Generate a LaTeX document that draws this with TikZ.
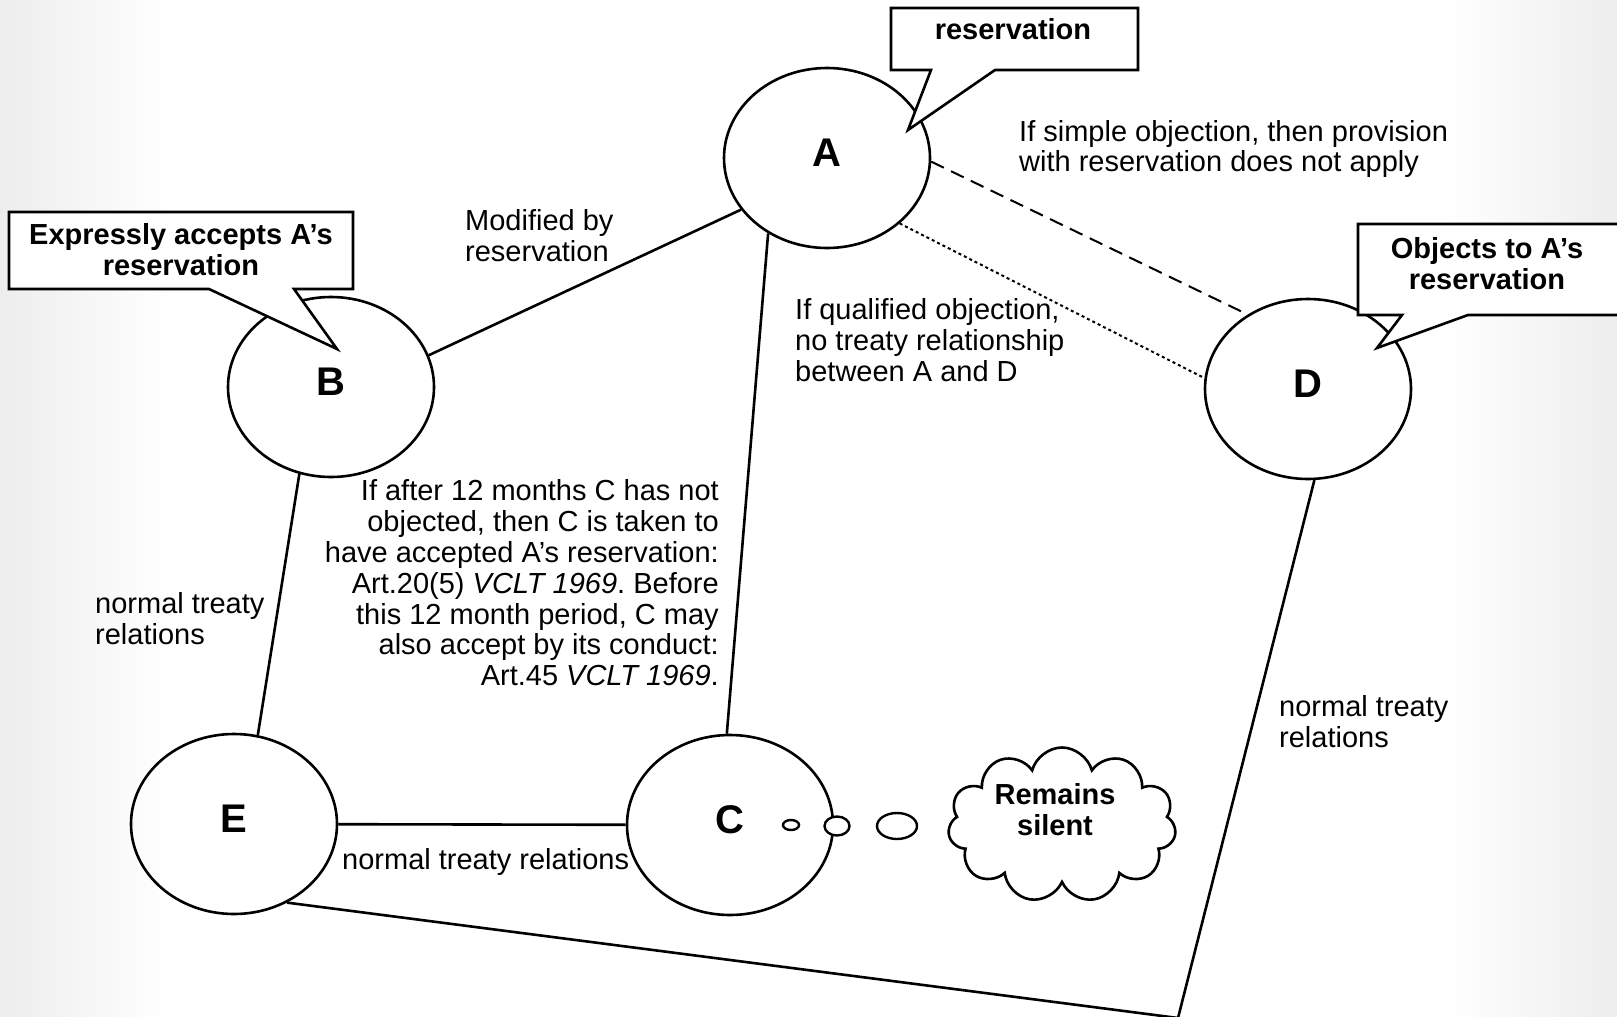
\documentclass[tikz,border=0pt]{standalone}
\usepackage{fontspec}
\setmainfont{Liberation Sans}
\usetikzlibrary{arrows.meta,positioning,shapes}
\frenchspacing

\tikzset{
  state/.style={ellipse, draw, line width=2.6pt, minimum width=206pt, minimum height=180pt, inner sep=0pt, font=\bfseries\fontsize{40}{40}\selectfont, text depth=10pt},
  link/.style={line width=2.6pt},
  note/.style={inner sep=0pt, font=\fontsize{29}{30.8}\selectfont},
  callout/.style={draw, fill=white, line width=2.6pt, line join=miter},
  calltext/.style={inner sep=0pt, align=center, font=\bfseries\fontsize{29}{30.8}\selectfont},
  bubble/.style={ellipse, draw, fill=white, line width=2.4pt, inner sep=0pt},
}

\begin{document}
\begin{tikzpicture}[x=1pt,y=-1pt]
  \useasboundingbox (0,0) rectangle (1617,1017);
  \clip (0,0) rectangle (1617,1017);
  \fill[white] (0,0) rectangle (1617,1017);
  \shade[left color=black!7, right color=white] (0,0) rectangle (170,1017);
  \shade[left color=white, right color=black!7] (1447,0) rectangle (1617,1017);

  \node[state] (A) at (827,158) {A};
  \node[state] (B) at (331,387) {B};
  \node[state] (D) at (1308,389) {D};
  \node[state] (E) at (234,824) {E};
  \node[state] (C) at (730,825) {C};
  \coordinate (corner) at (1178,1018);

  \draw[link] (A.211) -- (B.18);
  \draw[link] (A.232) -- (C.92);
  \draw[link] (B.250) -- (E.75);
  \draw[link] (E) -- (C);
  \draw[link] (E.304) -- (corner) -- (D.274);
  \draw[link, dash pattern=on 14pt off 8pt, line width=2pt] (A.358) -- (D.129);
  \draw[link, dash pattern=on 3pt off 3pt, line width=2pt] (A.318) -- (D.174);

  % callouts
  \draw[callout] (891,8) -- (1138,8) -- (1138,70) -- (995,70) -- (908,130) -- (931,70) -- (891,70) -- cycle;
  \draw[callout] (9,212) -- (353,212) -- (353,289) -- (294,289) -- (337,349) -- (209,289) -- (9,289) -- cycle;
  \draw[callout] (1358,224) -- (1625,224) -- (1625,315) -- (1468,315) -- (1377,348) -- (1402,315) -- (1358,315) -- cycle;
  \node[calltext] (resA) at (1013,29) {reservation};
  \node[calltext] (resB) at (181,250) {Expressly accepts A’s\\reservation};
  \node[calltext] (resD) at (1487,264) {Objects to A’s\\reservation};

  % thought bubble
  \node[bubble, minimum width=16pt, minimum height=10pt] (t1) at (791,825) {};
  \node[bubble, minimum width=25pt, minimum height=19pt] (t2) at (837,826) {};
  \node[bubble, minimum width=40pt, minimum height=26pt] (t3) at (897,826) {};
  \node[cloud, draw, fill=white, line width=2.6pt, cloud puffs=11, aspect=1.45, minimum width=228pt, minimum height=155pt] (silent) at (1062,825) {};
  \node[calltext] (silenttext) at (1055,810) {Remains\\silent};

  \node[note, anchor=west, align=left] (modnote) at (465,236) {Modified by\\reservation};
  \node[note, anchor=west, align=left] (simple) at (1019,149) {If simple objection, then provision\\with reservation does not apply};
  \node[note, anchor=west, align=left] (qualified) at (795,340) {If qualified objection,\\no treaty relationship\\between A and D};
  \node[note, anchor=east, align=right] (silence) at (719,583) {If after 12 months C has not\\objected, then C is taken to\\have accepted A’s reservation:\\Art.20(5) \textit{VCLT 1969}. Before\\this 12 month period, C may\\also accept by its conduct:\\Art.45 \textit{VCLT 1969}.};
  \node[note, anchor=west, align=left] (normBE) at (95,619) {normal treaty\\relations};
  \node[note, anchor=west] (normEC) at (342,862) {normal treaty relations};
  \node[note, anchor=west, align=left] (normD) at (1279,722) {normal treaty\\relations};
\end{tikzpicture}
\end{document}
